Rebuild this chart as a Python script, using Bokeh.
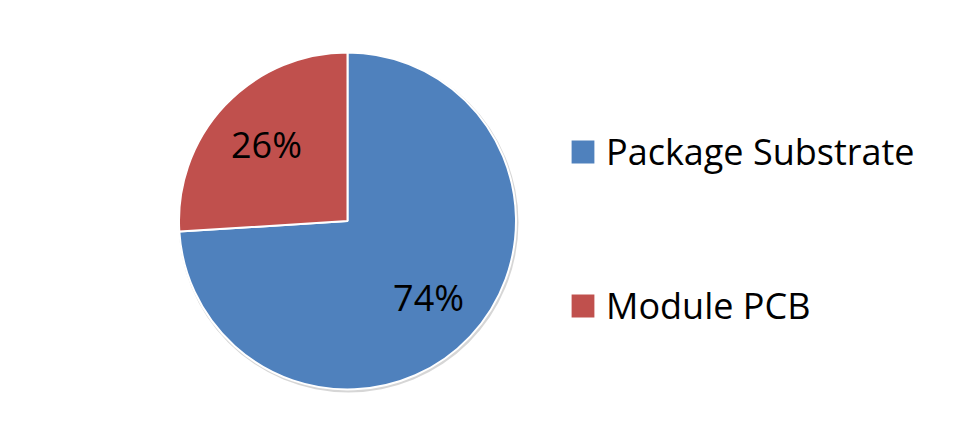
import numpy as np
from bokeh.plotting import figure
from bokeh.models import ColumnDataSource, Legend, LegendItem, Range1d
from bokeh.embed import file_html
from bokeh.resources import INLINE
from bokeh.core.properties import value

categories = ["Package Substrate", "Module PCB"]
shares = [74, 26]
colors = ["#4F81BD", "#C0504D"]

W, H = 958, 425
FONT = "Open Sans"

p = figure(width=W, height=H, x_range=Range1d(0, W), y_range=Range1d(0, H),
           output_backend="svg", toolbar_location=None, min_border=0)
p.axis.visible = False
p.grid.visible = False
p.outline_line_color = None
p.background_fill_color = "white"

cx, cy, r = 347.0, 204.5, 168.5
frac = np.array(shares, dtype=float) / sum(shares)
cum = np.cumsum(frac)
starts = np.pi / 2 - 2 * np.pi * np.concatenate([[0.0], cum[:-1]])
ends = np.pi / 2 - 2 * np.pi * cum
mids = (starts + ends) / 2
lr = 0.66 * r

src = ColumnDataSource(dict(
    label=categories,
    pct=[f"{s}%" for s in shares],
    start=starts, end=ends, color=colors,
    lx=cx + lr * np.cos(mids), ly=cy + lr * np.sin(mids),
))

# soft shadow
p.circle(x=[cx + 1.0], y=[cy - 1.5], radius=r + 1.5, fill_color="#000000",
         fill_alpha=0.16, line_color=None)

wr = p.wedge(x=cx, y=cy, radius=r, start_angle="start", end_angle="end",
             direction="clock", fill_color="color", line_color="white",
             line_width=2, source=src)

p.text(x="lx", y="ly", text="pct", source=src, text_align="center",
       text_baseline="middle", text_font=value(FONT), text_font_size="36px",
       text_color="black")

items = [LegendItem(label=categories[i], renderers=[wr], index=i)
         for i in range(len(categories))]
legend = Legend(items=items, location=(567, 95), padding=0, margin=0,
                border_line_color=None, background_fill_alpha=0,
                glyph_width=31, glyph_height=31, label_standoff=8,
                spacing=105, label_text_font=FONT, label_text_font_size="36px",
                label_text_color="black")
p.add_layout(legend, "center")

open("out.html", "w").write(file_html(p, INLINE))
